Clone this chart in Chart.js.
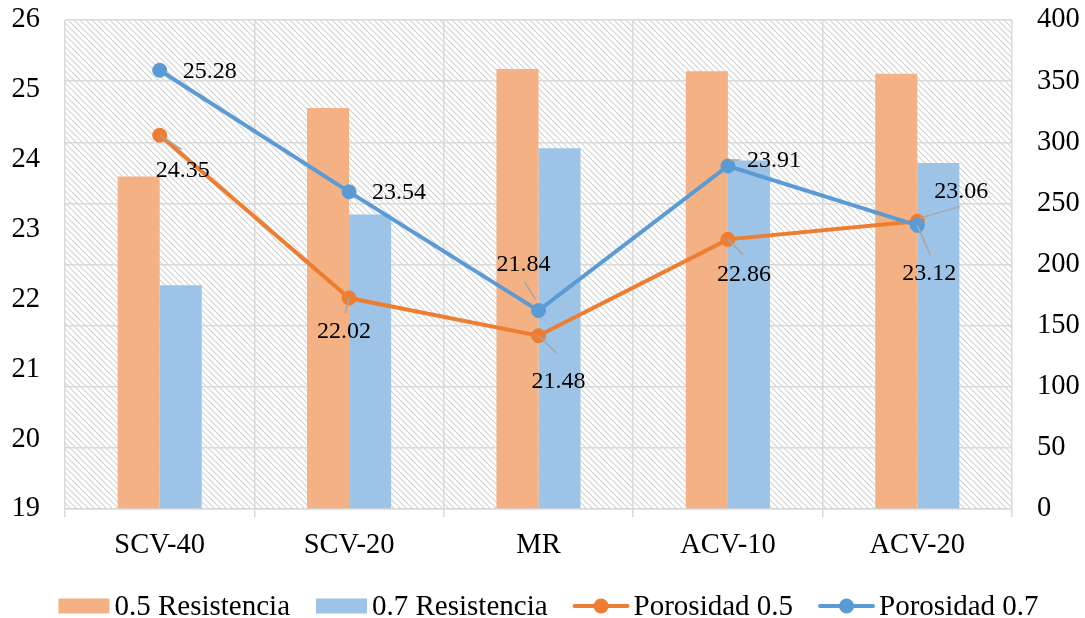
<!DOCTYPE html>
<html>
<head>
<meta charset="utf-8">
<script src="https://cdn.jsdelivr.net/npm/chart.js@4.4.1/dist/chart.umd.min.js"></script>
<style>
  html, body { margin: 0; padding: 0; background: #ffffff; }
  canvas { display: block; }
</style>
</head>
<body>
<canvas id="chart" width="1085" height="618"></canvas>
<script>
// ---- data ----
const categories = ['SCV-40', 'SCV-20', 'MR', 'ACV-10', 'ACV-20'];
const resistencia05 = [272, 328, 360, 358, 356];
const resistencia07 = [183, 241, 295, 285, 283];
const porosidad05 = [24.35, 22.02, 21.48, 22.86, 23.12];
const porosidad07 = [25.28, 23.54, 21.84, 23.91, 23.06];
const porosidadTicks = [19, 20, 21, 22, 23, 24, 25, 26];
const resistenciaTicks = [0, 50, 100, 150, 200, 250, 300, 350, 400];

// ---- label placement (offsets from each point, in px) ----
// dx/dy: text centre; lead: leader line [x1, y1, x2, y2]
const labelPlacement = {
  'Porosidad 0.5': [
    { dx: 23, dy: 35, lead: [0, 0, 22, 14] },
    { dx: -5, dy: 34, lead: [-4, 15, 0, 0] },
    { dx: 20, dy: 46, lead: [0, 0, 19, 18] },
    { dx: 16, dy: 35, lead: [0, 0, 15, 15] },
    { dx: 12, dy: 53, lead: [0, 4, 13, 34] }
  ],
  'Porosidad 0.7': [
    { dx: 50, dy: 1 },
    { dx: 50, dy: 1 },
    { dx: -15, dy: -46, lead: [-14, -29, -3, -11] },
    { dx: 46, dy: -5, lead: [2, -6, 12, -6] },
    { dx: 44, dy: -34, lead: [2, -7, 43, -19] }
  ]
};

const FONT = "'Liberation Serif', 'Times New Roman', serif";
const TEXT = '#000000';
const GRID = '#d9d9d9';
const ORANGE = '#ED7D31';
const BLUE = '#5B9BD5';
const ORANGE_BAR = '#F4B183';
const BLUE_BAR = '#9DC3E6';

Chart.defaults.font.family = FONT;
Chart.defaults.color = TEXT;

// diagonal hatch tile for the plot background
const hatchTile = (() => {
  const c = document.createElement('canvas');
  c.width = 6; c.height = 6;
  const g = c.getContext('2d');
  g.fillStyle = '#ffffff';
  g.fillRect(0, 0, 6, 6);
  g.strokeStyle = '#d4d4d4';
  g.lineWidth = 1.2;
  g.beginPath();
  g.moveTo(-1, -1); g.lineTo(7, 7);
  g.moveTo(-1, 5); g.lineTo(1, 7);
  g.moveTo(5, -1); g.lineTo(7, 1);
  g.stroke();
  return c;
})();

const hatchBackground = {
  id: 'hatchBackground',
  beforeDraw(chart) {
    const { ctx, chartArea: a } = chart;
    ctx.save();
    ctx.fillStyle = ctx.createPattern(hatchTile, 'repeat');
    ctx.fillRect(a.left, a.top, a.right - a.left, a.bottom - a.top);
    ctx.restore();
  }
};

const pointLabels = {
  id: 'pointLabels',
  afterDatasetsDraw(chart) {
    const ctx = chart.ctx;
    ctx.save();
    ctx.font = '24px ' + FONT;
    ctx.fillStyle = TEXT;
    ctx.textAlign = 'center';
    ctx.textBaseline = 'middle';
    chart.data.datasets.forEach((ds, di) => {
      const place = labelPlacement[ds.label];
      if (!place) return;
      const meta = chart.getDatasetMeta(di);
      meta.data.forEach((pt, i) => {
        const p = place[i];
        if (p.lead) {
          ctx.strokeStyle = '#a6a6a6';
          ctx.lineWidth = 1.5;
          ctx.beginPath();
          ctx.moveTo(pt.x + p.lead[0], pt.y + p.lead[1]);
          ctx.lineTo(pt.x + p.lead[2], pt.y + p.lead[3]);
          ctx.stroke();
        }
        ctx.fillText(ds.data[i].toFixed(2), pt.x + p.dx, pt.y + p.dy);
      });
    });
    ctx.restore();
  }
};

// legend row along the bottom: filled boxes for bars, line + marker for lines
const bottomLegend = {
  id: 'bottomLegend',
  afterDraw(chart) {
    const { ctx, chartArea: a } = chart;
    const items = chart.data.datasets.map(ds => ({
      text: ds.label,
      kind: ds.type === 'line' ? 'line' : 'box',
      color: ds.type === 'line' ? ds.borderColor : ds.backgroundColor
    }));
    ctx.save();
    ctx.font = '29px ' + FONT;
    const swatchW = { box: 51, line: 55 };
    const gapText = 5, gapItem = 26;
    let total = 0;
    items.forEach((it, i) => {
      it.w = ctx.measureText(it.text).width;
      total += swatchW[it.kind] + gapText + it.w + (i ? gapItem : 0);
    });
    let x = (a.left + a.right) / 2 + 10 - total / 2;
    const cy = 606, baseline = 615;
    items.forEach(it => {
      const sw = swatchW[it.kind];
      if (it.kind === 'box') {
        ctx.fillStyle = it.color;
        ctx.fillRect(x, cy - 7.5, sw, 15);
      } else {
        ctx.strokeStyle = it.color;
        ctx.lineWidth = 4;
        ctx.lineCap = 'round';
        ctx.beginPath();
        ctx.moveTo(x + 1, cy); ctx.lineTo(x + sw - 1, cy);
        ctx.stroke();
        ctx.fillStyle = it.color;
        ctx.beginPath();
        ctx.arc(x + sw / 2, cy, 7.5, 0, Math.PI * 2);
        ctx.fill();
      }
      x += sw + gapText;
      ctx.fillStyle = TEXT;
      ctx.textAlign = 'left';
      ctx.textBaseline = 'alphabetic';
      ctx.fillText(it.text, x, baseline);
      x += it.w + gapItem;
    });
    ctx.restore();
  }
};

// fixed margins around the plot area
function sideAxisFit(width) {
  return s => { s.width = width; s.paddingTop = 20; s.paddingBottom = 0; };
}

new Chart(document.getElementById('chart'), {
  data: {
    labels: categories,
    datasets: [
      {
        type: 'bar', label: '0.5 Resistencia', data: resistencia05, yAxisID: 'y1',
        backgroundColor: ORANGE_BAR, borderWidth: 0, order: 2,
        barPercentage: 1, categoryPercentage: 0.444
      },
      {
        type: 'bar', label: '0.7 Resistencia', data: resistencia07, yAxisID: 'y1',
        backgroundColor: BLUE_BAR, borderWidth: 0, order: 3,
        barPercentage: 1, categoryPercentage: 0.444
      },
      {
        type: 'line', label: 'Porosidad 0.5', data: porosidad05, yAxisID: 'y',
        borderColor: ORANGE, backgroundColor: ORANGE, borderWidth: 4,
        pointRadius: 7, pointBorderWidth: 1, pointBackgroundColor: ORANGE,
        pointBorderColor: ORANGE, tension: 0, fill: false, order: 1
      },
      {
        type: 'line', label: 'Porosidad 0.7', data: porosidad07, yAxisID: 'y',
        borderColor: BLUE, backgroundColor: BLUE, borderWidth: 4,
        pointRadius: 7, pointBorderWidth: 1, pointBackgroundColor: BLUE,
        pointBorderColor: BLUE, tension: 0, fill: false, order: 0
      }
    ]
  },
  options: {
    responsive: false,
    animation: false,
    devicePixelRatio: 1,
    events: [],
    layout: { padding: 0 },
    plugins: {
      legend: { display: false },
      tooltip: { enabled: false }
    },
    scales: {
      x: {
        type: 'category',
        offset: true,
        grid: { color: GRID, lineWidth: 1.5, offset: true, tickLength: 8, tickColor: GRID },
        border: { color: GRID, width: 1.5 },
        ticks: { font: { size: 28.5 }, color: TEXT, padding: 11, maxRotation: 0 },
        afterFit(s) { s.height = 109; }
      },
      y: {
        position: 'left',
        min: porosidadTicks[0],
        max: porosidadTicks[porosidadTicks.length - 1],
        afterBuildTicks(s) { s.ticks = porosidadTicks.map(v => ({ value: v })); },
        grid: { display: false, drawTicks: false },
        border: { display: false },
        ticks: { font: { size: 28.5 }, color: TEXT, padding: 25 },
        afterFit: sideAxisFit(65)
      },
      y1: {
        position: 'right',
        min: resistenciaTicks[0],
        max: resistenciaTicks[resistenciaTicks.length - 1],
        afterBuildTicks(s) { s.ticks = resistenciaTicks.map(v => ({ value: v })); },
        grid: { color: GRID, lineWidth: 1.5, drawTicks: false },
        border: { display: false },
        ticks: { font: { size: 28.5 }, color: TEXT, padding: 25 },
        afterFit: sideAxisFit(73)
      }
    }
  },
  plugins: [hatchBackground, pointLabels, bottomLegend]
});
</script>
</body>
</html>
